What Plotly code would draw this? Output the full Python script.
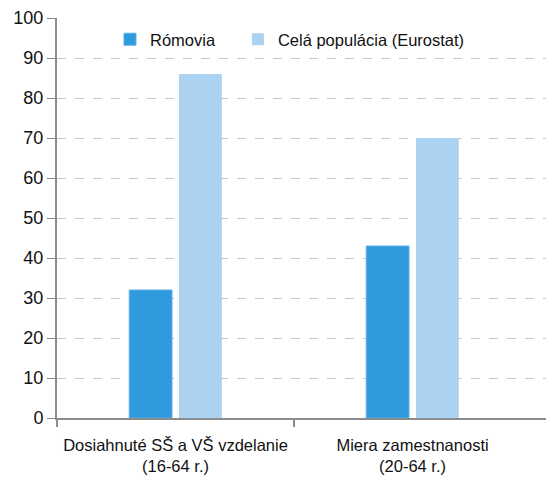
import plotly.graph_objects as go

categories = ["Dosiahnuté SŠ a VŠ vzdelanie<br>(16-64 r.)", "Miera zamestnanosti<br>(20-64 r.)"]
romovia = [32, 43]
cela = [86, 70]
series_names = ["Rómovia", "Celá populácia (Eurostat)"]
y_ticks = [0, 10, 20, 30, 40, 50, 60, 70, 80, 90, 100]

FONT = "Liberation Sans, Arial, sans-serif"
xpos = list(range(len(categories)))

fig = go.Figure()
fig.add_trace(go.Bar(x=xpos, y=romovia, name=series_names[0], legend="legend",
                     marker=dict(color="#2F9ADD", line=dict(color="#5DB0E6", width=1))))
fig.add_trace(go.Bar(x=xpos, y=cela, name=series_names[1], legend="legend2",
                     marker=dict(color="#ABD3F1", line=dict(color="#ABD3F1", width=0))))

leg_common = dict(orientation="h", y=0.99, xanchor="left", yanchor="top",
                  font=dict(family=FONT, size=16.5), bgcolor="rgba(0,0,0,0)",
                  itemwidth=30)

fig.update_layout(
    width=546, height=473,
    margin=dict(l=49, r=0, t=10, b=63),
    paper_bgcolor="white", plot_bgcolor="white",
    barmode="group", bargap=0.58, bargroupgap=0.14,
    font=dict(family=FONT, size=16, color="#111111"),
    showlegend=True,
    legend=dict(x=0.1066, **leg_common),
    legend2=dict(x=0.364, **leg_common),
    xaxis=dict(range=[-0.5, 1.597], tickmode="array", tickvals=xpos, ticktext=categories,
               ticks="", showgrid=False, zeroline=False,
               showline=True, linecolor="#8c8c8c", linewidth=2,
               tickfont=dict(family=FONT, size=16.5), ticklabelstandoff=11,
               minor=dict(tickmode="array", tickvals=[-0.5, 0.5], ticks="outside",
                          ticklen=7, tickcolor="#8c8c8c", tickwidth=2, showgrid=False)),
    yaxis=dict(range=[0, 100], tickmode="array", tickvals=y_ticks,
               ticks="outside", ticklen=8, tickcolor="#8c8c8c", tickwidth=1,
               showline=True, linecolor="#8c8c8c", linewidth=2,
               showgrid=True, gridcolor="#c8c8c8", griddash="dash", gridwidth=1,
               zeroline=False, tickfont=dict(family=FONT, size=18)),
)

fig.write_html("out.html")
